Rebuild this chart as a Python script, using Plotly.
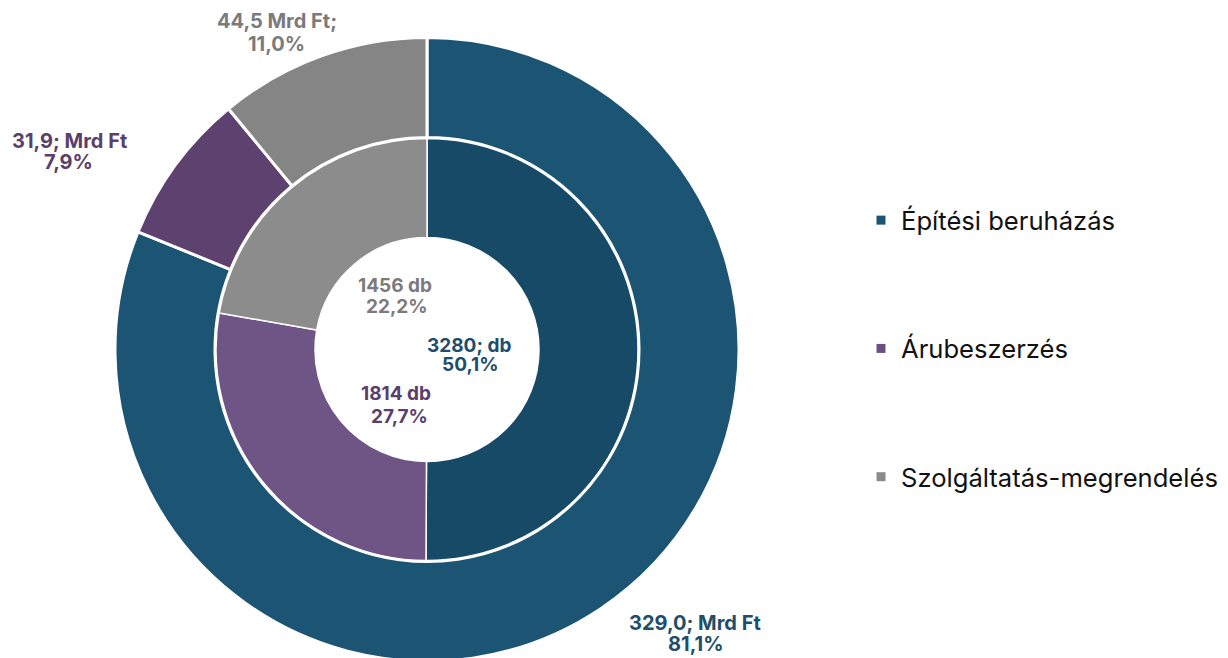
import plotly.graph_objects as go

categories = ["Építési beruházás", "Árubeszerzés", "Szolgáltatás-megrendelés"]
value_mrd_ft = [329.0, 31.9, 44.5]
value_db = [3280, 1814, 1456]
outer_line1 = ["329,0; Mrd Ft", "31,9; Mrd Ft", "44,5 Mrd Ft;"]
outer_line2 = ["81,1%", "7,9%", "11,0%"]
inner_line1 = ["3280; db", "1814 db", "1456 db"]
inner_line2 = ["50,1%", "27,7%", "22,2%"]

outer_colors = ["#1c5473", "#5d4270", "#858585"]
inner_colors = ["#174a67", "#6e5585", "#8c8c8c"]
label_colors = ["#1e4e6b", "#5a3e6c", "#7b7b7b"]
legend_colors = ["#1c5473", "#6a5081", "#8a8a8a"]

W, H = 1228, 658
OFF = 8  # page body margin offset
cx, cy = 427 - OFF, 349.5 - OFF  # centre in px from top-left of figure
R_out, R_in = 312, 211

def dom(r):
    return dict(x=[(cx - r) / W, (cx + r) / W],
                y=[(H - cy - r) / H, (H - cy + r) / H])

fig = go.Figure()
fig.add_trace(go.Pie(
    labels=categories, values=value_mrd_ft, hole=212 / R_out,
    sort=False, direction="clockwise", rotation=0,
    marker=dict(colors=outer_colors, line=dict(color="white", width=3)),
    textinfo="none", hoverinfo="label+value+percent", showlegend=False,
    domain=dom(R_out)))
fig.add_trace(go.Pie(
    labels=categories, values=value_db, hole=112 / R_in,
    sort=False, direction="clockwise", rotation=0,
    marker=dict(colors=inner_colors, line=dict(color="white", width=1.5)),
    textinfo="none", hoverinfo="label+value+percent", showlegend=False,
    domain=dom(R_in)))

for i, c in enumerate(categories):
    fig.add_trace(go.Scatter(
        x=[None], y=[None], mode="markers", name=c, legendgroup=c,
        marker=dict(symbol="square", size=9, color=legend_colors[i])))

# label line centres (screen px): (x1, y1, x2, y2)
outer_pos = [(695, 622, 695, 643), (69, 139.5, 68, 161), (277, 20, 276, 42.5)]
inner_pos = [(469, 344, 470, 364), (396, 392.5, 400, 415), (395, 284.5, 397, 305.5)]

def add_label(txt, x, y, col, size):
    fig.add_annotation(x=(x - OFF) / W, y=1 - (y + 1 - OFF) / H,
                       xref="paper", yref="paper", text=txt,
                       showarrow=False, align="center",
                       xanchor="center", yanchor="middle",
                       font=dict(family="Inter", size=size, color=col, weight="bold"))

for l1, l2, (x1, y1, x2, y2), col in zip(outer_line1, outer_line2, outer_pos, label_colors):
    add_label(l1, x1, y1, col, 20)
    add_label(l2, x2, y2, col, 20)
for l1, l2, (x1, y1, x2, y2), col in zip(inner_line1, inner_line2, inner_pos, label_colors):
    add_label(l1, x1, y1, col, 19)
    add_label(l2, x2, y2, col, 19)

fig.update_layout(
    width=W, height=H, margin=dict(l=0, r=0, t=0, b=0),
    paper_bgcolor="white", plot_bgcolor="white",
    xaxis=dict(visible=False), yaxis=dict(visible=False),
    legend=dict(x=853 / W, y=1 - 340.5 / H, xanchor="left", yanchor="middle",
                traceorder="grouped", tracegroupgap=92, itemwidth=30,
                font=dict(family="Inter", size=25.6, color="#111111"),
                bgcolor="rgba(0,0,0,0)"),
    showlegend=True,
)

fig.write_html("out.html")
